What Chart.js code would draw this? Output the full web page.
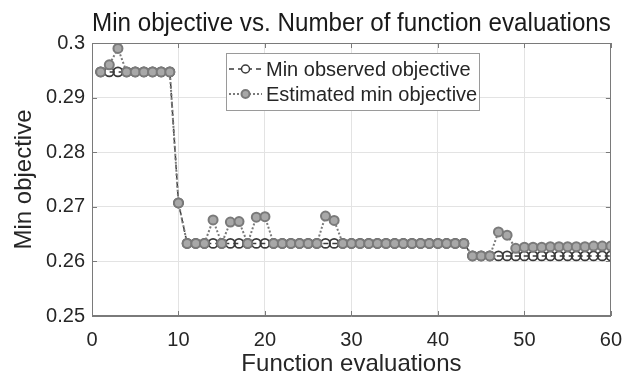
<!DOCTYPE html>
<html><head><meta charset="utf-8">
<script src="https://cdn.jsdelivr.net/npm/chart.js@4.4.1/dist/chart.umd.min.js"></script>
<style>html,body{margin:0;padding:0;background:#fff}</style>
</head><body>
<div style="width:634px;height:379px"><canvas id="c" width="634" height="379"></canvas></div>
<script>
const chartTitle = 'Min objective vs. Number of function evaluations';
const xAxisTitle = 'Function evaluations';
const yAxisTitle = 'Min objective';
const seriesNames = ['Min observed objective', 'Estimated min objective'];
const evaluations = [1,2,3,4,5,6,7,8,9,10,11,12,13,14,15,16,17,18,19,20,21,22,23,24,25,26,27,28,29,30,31,32,33,34,35,36,37,38,39,40,41,42,43,44,45,46,47,48,49,50,51,52,53,54,55,56,57,58,59,60];
const minObserved = [
  0.2947,0.2947,0.2947,0.2947,0.2947,0.2947,0.2947,0.2947,0.2947,
  0.2707,
  0.2633,0.2633,0.2633,0.2633,0.2633,0.2633,0.2633,0.2633,0.2633,0.2633,
  0.2633,0.2633,0.2633,0.2633,0.2633,0.2633,0.2633,0.2633,0.2633,0.2633,
  0.2633,0.2633,0.2633,0.2633,0.2633,0.2633,0.2633,0.2633,0.2633,0.2633,
  0.2633,0.2633,0.2633,
  0.2610,0.2610,0.2610,0.2610,0.2610,0.2610,0.2610,0.2610,0.2610,0.2610,
  0.2610,0.2610,0.2610,0.2610,0.2610,0.2610,0.2610
];
const estimatedMin = [
  0.2947,0.2960,0.2990,0.2947,0.2947,0.2947,0.2947,0.2947,0.2947,
  0.2707,
  0.2633,0.2633,0.2633,0.2676,0.2633,0.2672,0.2673,0.2633,0.2681,0.2682,
  0.2633,0.2633,0.2633,0.2633,0.2633,0.2633,0.2683,0.2675,0.2633,0.2633,
  0.2633,0.2633,0.2633,0.2633,0.2633,0.2633,0.2633,0.2633,0.2633,0.2633,
  0.2633,0.2633,0.2633,
  0.2610,0.2610,0.2610,0.2654,0.2648,0.2624,0.2626,0.2626,0.2626,0.2627,
  0.2627,0.2627,0.2627,0.2627,0.2628,0.2628,0.2628
];
const xTickValues = [0,10,20,30,40,50,60];
const yTickValues = [0.25,0.26,0.27,0.28,0.29,0.3];

const FONT = '"Liberation Sans", Arial, Helvetica, sans-serif';
const TEXT = '#262626';
const AXIS = '#7a7a7a';
const GRID = '#e3e3e3';
const OBS_COLOR = '#3a3a3a';
const EST_COLOR = '#7a7a7a';
const EST_FILL = '#a8a8a8';

const toPts = (vals) => vals.map((v, i) => ({x: evaluations[i], y: v}));

const framePlugin = {
  id: 'frame',
  afterDatasetsDraw(chart) {
    const {ctx, chartArea: a, scales: {x, y}} = chart;
    ctx.save();
    ctx.strokeStyle = AXIS;
    ctx.lineWidth = 1;
    ctx.strokeRect(Math.round(a.left) + 0.5, Math.round(a.top) + 0.5,
      Math.round(a.right - a.left) - 1, Math.round(a.bottom - a.top) - 1);
    ctx.beginPath();
    xTickValues.forEach(v => {
      const px = Math.round(x.getPixelForValue(v)) + 0.5;
      ctx.moveTo(px, a.bottom); ctx.lineTo(px, a.bottom - 5);
      ctx.moveTo(px, a.top); ctx.lineTo(px, a.top + 5);
    });
    yTickValues.forEach(v => {
      const py = Math.round(y.getPixelForValue(v)) + 0.5;
      ctx.moveTo(a.left, py); ctx.lineTo(a.left + 5, py);
      ctx.moveTo(a.right, py); ctx.lineTo(a.right - 5, py);
    });
    ctx.stroke();
    ctx.restore();
  },
  afterDraw(chart) {
    const {ctx} = chart;
    ctx.save();
    const bx = 226.5, by = 53.5, bw = 253, bh = 57;
    ctx.fillStyle = '#fff';
    ctx.fillRect(bx, by, bw, bh);
    ctx.strokeStyle = '#9a9a9a';
    ctx.lineWidth = 1;
    ctx.strokeRect(bx, by, bw, bh);
    const rows = [
      {y: 69, color: OBS_COLOR, dash: [5, 4], width: 1.5, fill: null, mw: 1.5, label: seriesNames[0]},
      {y: 94, color: EST_COLOR, dash: [2, 2], width: 2, fill: EST_FILL, mw: 2, label: seriesNames[1]}
    ];
    rows.forEach(r => {
      ctx.setLineDash(r.dash);
      ctx.strokeStyle = r.color;
      ctx.lineWidth = r.width;
      ctx.beginPath(); ctx.moveTo(229, r.y); ctx.lineTo(262, r.y); ctx.stroke();
      ctx.setLineDash([]);
      ctx.beginPath(); ctx.arc(245.5, r.y, 4, 0, Math.PI * 2);
      ctx.fillStyle = r.fill || '#fff';
      ctx.fill();
      ctx.lineWidth = r.mw;
      ctx.stroke();
      ctx.fillStyle = TEXT;
      ctx.font = '20px ' + FONT;
      ctx.textBaseline = 'middle';
      ctx.textAlign = 'left';
      ctx.fillText(r.label, 266, r.y + 1);
    });
    ctx.restore();
  }
};

new Chart(document.getElementById('c'), {
  type: 'line',
  data: {
    datasets: [
      {
        label: seriesNames[1], data: toPts(estimatedMin), order: 0,
        borderColor: EST_COLOR, borderWidth: 2, borderDash: [2, 2],
        pointRadius: 4.5, pointBorderWidth: 2, pointBorderColor: EST_COLOR,
        pointBackgroundColor: EST_FILL, tension: 0, fill: false
      },
      {
        label: seriesNames[0], data: toPts(minObserved), order: 1,
        borderColor: OBS_COLOR, borderWidth: 1.5, borderDash: [5, 4],
        pointRadius: 4.5, pointBorderWidth: 1.8, pointBorderColor: OBS_COLOR,
        pointBackgroundColor: 'rgba(255,255,255,0)', tension: 0, fill: false
      }
    ]
  },
  options: {
    responsive: false, animation: false, devicePixelRatio: 1,
    layout: {padding: {left: 0, right: 21, top: 0, bottom: 0}},
    plugins: {
      legend: {display: false},
      tooltip: {enabled: false},
      title: {
        display: true, text: chartTitle, fullSize: false,
        font: {size: 25, family: FONT, weight: 'normal'}, color: '#1a1a1a',
        padding: {top: 9, bottom: 4}
      }
    },
    scales: {
      x: {
        type: 'linear', min: 0, max: 60,
        afterBuildTicks: s => { s.ticks = xTickValues.map(v => ({value: v})); },
        afterFit: s => { s.height = 63; },
        grid: {color: GRID, drawTicks: false},
        border: {color: AXIS},
        ticks: {font: {size: 20, family: FONT}, color: TEXT, padding: 12, maxRotation: 0, autoSkip: false},
        title: {display: true, text: xAxisTitle, font: {size: 24, family: FONT}, color: TEXT, padding: {top: 3, bottom: 0}}
      },
      y: {
        type: 'linear', min: 0.25, max: 0.3,
        afterBuildTicks: s => { s.ticks = yTickValues.map(v => ({value: v})); },
        afterFit: s => { s.width = 92; },
        grid: {color: GRID, drawTicks: false},
        border: {color: AXIS},
        ticks: {font: {size: 20, family: FONT}, color: TEXT, padding: 7,
          callback: v => String(Number(v.toFixed(2)))},
        title: {display: true, text: yAxisTitle, font: {size: 24, family: FONT}, color: TEXT, padding: {top: 10, bottom: 0}}
      }
    }
  },
  plugins: [framePlugin]
});
</script>
</body></html>
